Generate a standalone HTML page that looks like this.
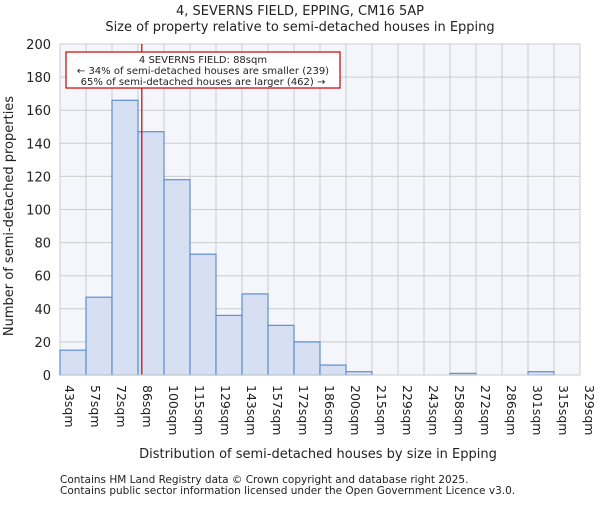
<!DOCTYPE html><html><head><meta charset="utf-8"><style>body{margin:0;background:#fff}svg{font-family:"DejaVu Sans","Liberation Sans",sans-serif}</style></head><body>
<svg id="c" width="600" height="500"></svg>
<script>
const labels=["43sqm","57sqm","72sqm","86sqm","100sqm","115sqm","129sqm","143sqm","157sqm","172sqm","186sqm","200sqm","215sqm","229sqm","243sqm","258sqm","272sqm","286sqm","301sqm","315sqm","329sqm"];
const counts=[15,47,166,147,118,73,36,49,30,20,6,2,0,0,0,1,0,0,2,0];
const yTicks=[0,20,40,60,80,100,120,140,160,180,200];
const marker=88;
const edges=[43,57.3,71.6,85.9,100.2,114.5,128.8,143.1,157.4,171.7,186,200.3,214.6,228.9,243.2,257.5,271.8,286.1,300.4,314.7,329];
const NS="http://www.w3.org/2000/svg",svg=document.getElementById('c');
const L=60,R=580,T=44,B=375,n=counts.length,bw=(R-L)/n;
const y=v=>B-(v/200)*(B-T);
const xi=i=>L+i*bw;
function mk(t,a,p){const e=document.createElementNS(NS,t);for(const k in a)e.setAttribute(k,a[k]);(p||svg).appendChild(e);return e;}
let e=mk('rect',{x:L,y:T,width:R-L,height:B-T,fill:'#f4f6fc'});

for(let i=0;i<=n;i++){e=mk('line',{x1:xi(i),x2:xi(i),y1:T,y2:B,stroke:'#cccccc'});}
yTicks.forEach(v=>{e=mk('line',{x1:L,x2:R,y1:y(v),y2:y(v),stroke:'#cccccc'});
e=mk('text',{x:L-9,y:y(v)+5,'text-anchor':'end','font-size':13,fill:'#222'});e.textContent=v;});
counts.forEach((c,i)=>{e=mk('rect',{x:xi(i),y:y(c),width:bw,height:B-y(c),fill:'#d6e0f2',stroke:'#5b8fd6','stroke-width':1.2});});
labels.forEach((l,i)=>{const x=xi(i)+5;e=mk('text',{x:x,y:385,'font-size':12.5,fill:'#222',transform:`rotate(90 ${x} 385)`});e.textContent=l;});
let mi=0;while(mi<n-1&&marker>edges[mi+1])mi++;
const mx=xi(mi)+(marker-edges[mi])/(edges[mi+1]-edges[mi])*bw;
e=mk('line',{x1:mx,x2:mx,y1:T,y2:B,stroke:'#cc0000','stroke-width':1.2});
const g=mk('g',{});
mk('rect',{x:66,y:52,width:274,height:36,fill:'#fff',stroke:'#cc0000','stroke-width':1.2},g);
["4 SEVERNS FIELD: 88sqm","← 34% of semi-detached houses are smaller (239)","65% of semi-detached houses are larger (462) →"].forEach((t,i)=>{e=mk('text',{x:203,y:63+i*11,'text-anchor':'middle','font-size':10,fill:'#222'},g);e.textContent=t;});
mk('line',{x1:L,x2:R,y1:B,y2:B,stroke:'#ccc'});
[["4, SEVERNS FIELD, EPPING, CM16 5AP",15,300,'middle',13,'title-line1'],["Size of property relative to semi-detached houses in Epping",31,300,'middle',13,'title-line2'],["Distribution of semi-detached houses by size in Epping",458,318,'middle',13,'x-axis-title'],["Contains HM Land Registry data © Crown copyright and database right 2025.",483,60,'start',10.5,'footer-line1'],["Contains public sector information licensed under the Open Government Licence v3.0.",494,60,'start',10.5,'footer-line2']].forEach(a=>{e=mk('text',{x:a[2],y:a[1],'text-anchor':a[3],'font-size':a[4],fill:'#222'});e.textContent=a[0];});
e=mk('text',{x:13,y:216,'text-anchor':'middle','font-size':13,fill:'#222',transform:'rotate(-90 13 216)'});e.textContent="Number of semi-detached properties";
</script></body></html>
